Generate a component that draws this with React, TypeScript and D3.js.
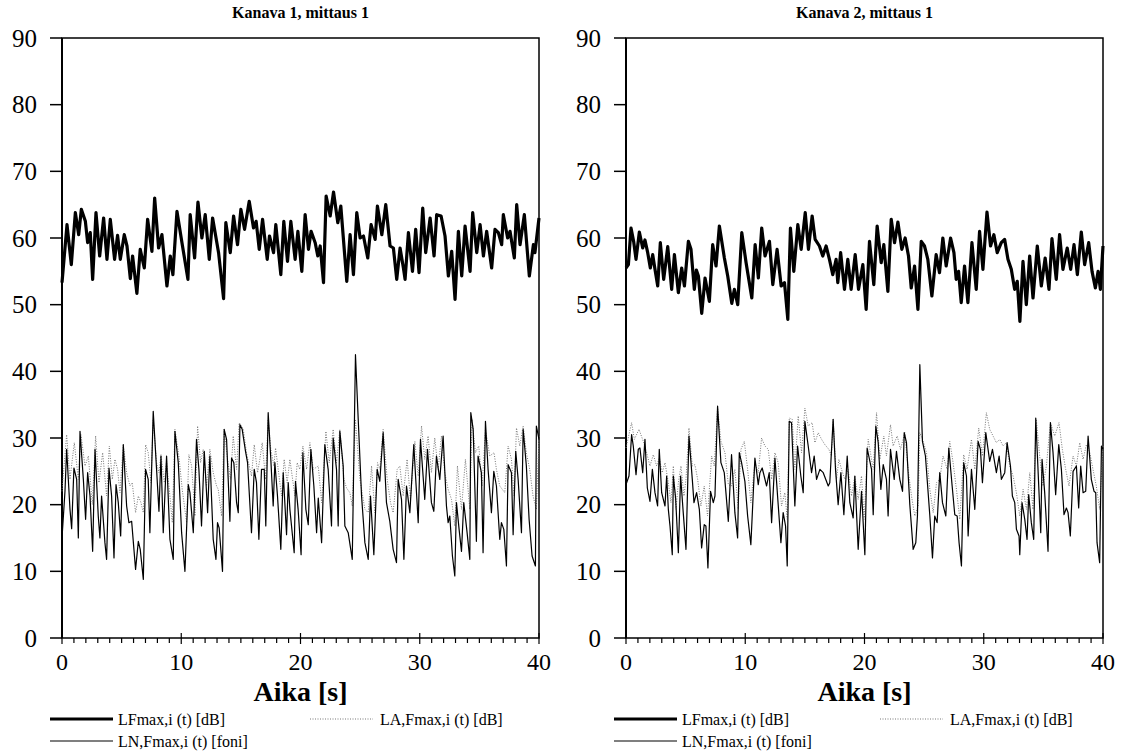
import React from "react";
import * as d3 from "d3";

type P = [number, number];

const xTicks = [0, 10, 20, 30, 40];
const yTicks = [0, 10, 20, 30, 40, 50, 60, 70, 80, 90];
const titles = ["Kanava 1, mittaus 1", "Kanava 2, mittaus 1"];
const xTitle = "Aika [s]";
const legendNames = ["LFmax,i (t) [dB]", "LA,Fmax,i (t) [dB]", "LN,Fmax,i (t) [foni]"];

// Kanava 1 – LFmax
const lf1: P[] = [[0,53.3],[0.42,62],[0.78,56],[1.12,63.8],[1.4,60.5],[1.62,64.3],[1.96,62.5],[2.15,59.3],[2.37,60.8],[2.57,53.8],[2.85,63.8],[3.16,57.3],[3.49,63],[3.77,56.8],[4.05,62.8],[4.41,56.8],[4.66,60.4],[4.89,56.8],[5.22,60.5],[5.45,58.8],[5.73,53.9],[5.92,57.3],[6.28,51.7],[6.56,58.3],[6.9,55.5],[7.18,62.8],[7.54,58],[7.77,66],[8.1,58.5],[8.38,60.5],[8.8,52.8],[9.08,57.3],[9.3,54.5],[9.64,64],[10.06,59.3],[10.56,53.8],[10.75,63.5],[11.12,57],[11.4,65.4],[11.73,60],[12.01,63.5],[12.35,56.8],[12.63,63],[13.13,57.8],[13.55,50.9],[13.74,62.3],[14.11,57.8],[14.39,63.3],[14.72,59],[15,64.3],[15.31,61.3],[15.7,65.5],[16.06,61.5],[16.28,62.5],[16.54,58.3],[16.82,62.8],[17.21,56.8],[17.4,60.3],[17.74,57.8],[17.93,62],[18.35,54.5],[18.6,62.5],[18.91,56.5],[19.19,62.5],[19.55,56.8],[19.78,61],[20.11,55],[20.39,63.5],[20.67,58.3],[20.89,61],[21.23,59.3],[21.45,57.3],[21.65,58.8],[21.93,53.3],[22.15,66.3],[22.49,63.3],[22.77,66.9],[23.13,62.3],[23.38,64.8],[23.88,53.5],[24.16,60.5],[24.44,54.5],[24.72,63.8],[25,60],[25.28,60.3],[25.64,57],[25.92,62],[26.26,59.8],[26.45,64.8],[26.82,60.5],[27.15,65],[27.51,58.8],[27.79,58.5],[28.07,53.8],[28.35,58.5],[28.63,55.5],[28.77,53.8],[29.05,60.8],[29.39,55],[29.66,61.3],[29.94,54.8],[30.25,64.5],[30.5,57.8],[30.87,63],[31.2,57.3],[31.42,63.5],[31.79,63.3],[32.12,60.3],[32.4,54.3],[32.68,58],[32.96,50.8],[33.24,61],[33.52,54.3],[33.8,61.8],[34.22,55],[34.44,63.8],[34.78,57.8],[35.06,62],[35.34,57.3],[35.61,61],[36.03,55.5],[36.31,61.3],[36.59,60.8],[36.87,59],[37.01,63.5],[37.37,60],[37.57,61],[37.93,57],[38.13,65],[38.41,59],[38.77,63.5],[39.19,54.3],[39.53,59],[39.66,57.8],[40,63]];

// Kanava 1 – LA,Fmax
const la1: P[] = [[0,22],[0.39,30.5],[0.67,23.8],[1.03,29.3],[1.37,23.8],[1.59,30.5],[1.93,25.8],[2.21,27.3],[2.54,20],[2.82,30.3],[3.1,23.3],[3.41,27.8],[3.74,21.3],[3.97,28.8],[4.22,23.8],[4.44,26.8],[4.66,25.3],[4.86,21.8],[5.14,29],[5.42,24.8],[5.7,22.8],[5.89,23.3],[6.17,18.8],[6.4,21.3],[6.62,20.3],[6.82,18.8],[7.01,29],[7.23,27.8],[7.46,23.3],[7.65,32.8],[7.93,26.3],[8.13,24.8],[8.3,27.5],[8.58,23.3],[8.77,26.5],[9.05,21.3],[9.25,17.3],[9.47,31.3],[9.8,27.3],[10.08,22.3],[10.45,17.3],[10.64,27.5],[10.87,25.8],[11.15,18.3],[11.37,31.8],[11.62,26.3],[11.84,28.3],[12.12,22.8],[12.4,28.3],[12.68,24.8],[12.96,22.8],[13.1,22.3],[13.38,18.3],[13.6,31.3],[13.88,26.8],[14.13,23.8],[14.36,30.3],[14.64,25.3],[14.86,32.3],[15.2,31.3],[15.47,27.8],[15.7,25.8],[15.89,24.3],[16.12,29],[16.4,24.8],[16.59,26.8],[16.79,29.3],[17.07,23.8],[17.29,32.8],[17.51,28.3],[17.77,25.8],[17.91,28.5],[18.13,25.3],[18.41,21.3],[18.63,26.8],[18.88,23.3],[19.11,26.8],[19.3,24.3],[19.53,21.3],[19.72,26.3],[19.94,25.3],[20.2,28.8],[20.51,25.3],[20.79,29.3],[21.07,25.3],[21.49,25.8],[21.77,20.3],[22.13,31],[22.41,26.3],[22.74,31.3],[23.02,26.3],[23.3,31.3],[23.64,23.8],[23.86,22.5],[24.14,21.8],[24.34,19.8],[24.61,32.8],[24.98,23.8],[25.4,19.3],[25.68,18.8],[25.96,25.8],[26.23,18.8],[26.46,26.3],[26.65,25.3],[26.93,31.3],[27.27,23.8],[27.55,20.3],[27.77,18.8],[28.11,25.3],[28.33,25.8],[28.61,21.3],[28.94,26.8],[29.22,20.8],[29.59,29.5],[29.87,24.3],[30.15,31.8],[30.42,26.8],[30.7,30.3],[30.98,24.8],[31.26,30],[31.54,25.3],[31.82,30.3],[32.1,24.8],[32.38,22.3],[32.66,20.8],[32.94,16.8],[33.16,25.8],[33.5,19.3],[33.83,26.8],[34.2,19.3],[34.39,32.8],[34.67,27.8],[34.95,28.8],[35.23,22.8],[35.51,31.3],[35.87,27.3],[36.23,27.8],[36.43,25.3],[36.71,22.8],[37.13,21.8],[37.41,28.8],[37.69,26.8],[37.91,21.3],[38.11,31.5],[38.39,28.8],[38.67,31.8],[38.94,27.8],[39.22,25.3],[39.5,21.3],[39.78,19.3],[40,30.3]];

// Kanava 1 – LN,Fmax
const ln1: P[] = [[0,15],[0.25,22],[0.39,28.3],[0.67,19.3],[0.81,16.4],[1,25.5],[1.23,23.8],[1.37,15],[1.51,31],[1.79,23.8],[1.98,17.8],[2.15,24.8],[2.35,21.3],[2.57,13],[2.77,28.3],[3.04,18.3],[3.18,15],[3.32,21.3],[3.6,14.3],[3.74,11.8],[3.94,25.5],[4.16,21.3],[4.36,12],[4.53,23],[4.72,20.3],[4.92,15.3],[5.14,29],[5.42,19.8],[5.61,17.3],[5.84,17.5],[6.17,10.3],[6.4,14.5],[6.56,13.3],[6.82,8.8],[7.01,25.3],[7.23,23.8],[7.37,15.8],[7.65,34],[7.93,25.3],[8.13,19],[8.3,27.3],[8.49,15.8],[8.77,27.3],[9.05,14.8],[9.33,11.8],[9.47,31],[9.75,26.3],[10.03,15.8],[10.31,10],[10.59,23],[10.73,21.8],[11.01,15.8],[11.28,29.8],[11.48,25.3],[11.7,16.8],[11.93,28],[12.21,18.8],[12.4,27.3],[12.68,14.8],[12.91,11.8],[13.04,17.3],[13.18,16.5],[13.46,10],[13.6,31.3],[13.8,29.8],[14.08,17.5],[14.22,27],[14.41,26.3],[14.64,20.3],[14.78,18.8],[14.92,32],[15.11,31.3],[15.39,28],[15.56,26.3],[15.89,15.8],[16.12,25.3],[16.31,23.3],[16.51,14.8],[16.73,25.3],[16.96,25.3],[17.09,16.8],[17.29,33.8],[17.51,26.8],[17.71,19.8],[17.85,26.3],[18.07,21.3],[18.35,13.3],[18.55,24.8],[18.83,15.5],[18.97,23.3],[19.11,19.3],[19.47,12.8],[19.58,23.5],[19.8,19.3],[20.05,12.5],[20.2,27.8],[20.45,19.3],[20.65,17],[20.87,28.3],[21.12,22.8],[21.35,15.8],[21.49,21],[21.77,14.3],[22.04,29],[22.32,25.3],[22.6,16.8],[22.74,30],[23.02,25.3],[23.16,16.8],[23.3,31],[23.58,25.8],[23.72,16.8],[24,15.8],[24.34,11.8],[24.61,42.5],[24.84,32.8],[25.12,21.3],[25.4,14.3],[25.68,11.8],[25.87,21.3],[26.15,12.5],[26.43,25.3],[26.65,23.5],[26.93,30.8],[27.21,20.3],[27.49,17.5],[27.77,13.3],[28.05,11.3],[28.19,23.8],[28.47,20.8],[28.67,11.8],[28.89,22.8],[29.17,18.8],[29.5,29],[29.87,17.3],[30.06,29.8],[30.42,20.8],[30.65,28.3],[30.98,20.3],[31.18,19],[31.4,27.3],[31.68,23.8],[31.96,30.3],[32.24,19.8],[32.38,17.3],[32.52,18.3],[32.74,12.3],[32.94,9.3],[33.08,20.3],[33.3,16.3],[33.5,13],[33.69,20.3],[33.97,15.8],[34.2,11.8],[34.28,33.8],[34.48,31.3],[34.75,14.5],[34.89,27.3],[35.17,24.8],[35.31,12.8],[35.51,32.5],[35.73,25.3],[36.01,18.8],[36.21,25],[36.43,22.8],[36.71,14.8],[36.85,17.3],[37.05,16.3],[37.27,10.8],[37.41,26],[37.69,24.8],[37.83,15.5],[38.05,28],[38.25,23.8],[38.53,15.8],[38.67,31.3],[38.94,25.8],[39.17,17.8],[39.42,12.3],[39.7,10.8],[39.78,31.8],[40,29.8]];

// Kanava 2 – LFmax
const lf2: P[] = [[0,55.5],[0.2,56],[0.42,61.5],[0.64,59.5],[0.84,56.8],[1.12,60.9],[1.4,58.5],[1.59,59.7],[1.82,57.8],[2.04,55.5],[2.24,57.5],[2.43,55.3],[2.66,52.8],[2.88,59.3],[3.16,53.8],[3.5,58.7],[3.83,52.3],[4.06,57.5],[4.39,51.8],[4.67,55.5],[4.9,52.8],[5.23,59.5],[5.45,58.3],[5.73,52.3],[5.9,55.2],[6.07,54.3],[6.35,48.7],[6.63,54],[6.99,50.5],[7.27,59],[7.55,55.8],[7.83,61.8],[8.25,57],[8.53,54.3],[8.87,50.2],[9.09,52.3],[9.37,50],[9.71,60.8],[10.07,56.3],[10.55,51],[10.83,59],[11.1,54],[11.38,61.5],[11.66,57.3],[12.03,59.5],[12.31,53],[12.67,58.3],[13.01,52.8],[13.29,53.3],[13.57,47.8],[13.79,61.5],[14.07,55],[14.41,62],[14.69,58.3],[15.03,63.8],[15.3,58.3],[15.61,63.3],[15.86,59.8],[16.22,58.8],[16.5,57.3],[16.78,58.8],[17.06,56.8],[17.34,54.5],[17.62,56.8],[17.76,53.3],[18,57.8],[18.32,52.3],[18.6,56.8],[18.88,52.3],[19.22,57.5],[19.5,52.3],[19.86,56],[20.14,49.3],[20.42,59.5],[20.78,53],[21.06,61.8],[21.4,56.3],[21.62,59],[21.96,52],[22.24,62.8],[22.52,59.3],[22.8,62.4],[23.13,58.3],[23.41,60],[23.69,57.3],[23.92,52.5],[24.2,55.8],[24.48,49.3],[24.76,59.5],[25.03,58.8],[25.31,56.8],[25.65,51.3],[26.01,57.5],[26.29,54.8],[26.57,60],[26.85,55.8],[27.22,60],[27.5,57.8],[27.69,53.8],[27.89,55],[28.11,50.3],[28.39,55.8],[28.67,50.3],[29.01,59.3],[29.37,52.3],[29.65,61],[29.93,55.3],[30.27,63.9],[30.57,58.8],[30.85,60.5],[31.13,57.8],[31.47,59.3],[31.75,59.8],[32.03,56.8],[32.31,55.3],[32.59,52.3],[32.81,53.5],[33.03,47.5],[33.29,56.5],[33.57,50],[33.85,57.3],[34.13,51],[34.49,58.8],[34.83,52.8],[35.15,57],[35.47,52.3],[35.72,59.9],[36.08,53.8],[36.36,60.5],[36.64,55.3],[37,58.5],[37.29,55.3],[37.57,59],[37.85,54.5],[38.18,60.9],[38.46,56],[38.8,59.3],[39.08,55],[39.36,52.5],[39.59,55],[39.78,52.3],[40,58.8]];

// Kanava 2 – LA,Fmax
const la2: P[] = [[0,28.5],[0.47,32.3],[0.7,29.8],[1.09,31.3],[1.45,29.5],[1.73,27.8],[2.01,25.8],[2.29,27.5],[2.57,25.8],[2.79,27],[3.04,24.8],[3.27,26.3],[3.55,23.3],[3.77,20.3],[3.97,25.8],[4.19,19.3],[4.39,23.3],[4.61,25.8],[4.86,21.3],[5.03,23.8],[5.28,31.5],[5.56,25.8],[5.78,26],[6.01,23.8],[6.28,19.8],[6.56,22.8],[6.84,18.3],[7.18,27.3],[7.4,25.8],[7.68,34.5],[7.96,29.5],[8.3,27.8],[8.58,23],[8.85,22.8],[9.13,25.3],[9.41,19.3],[9.64,28.3],[9.92,29.5],[10.2,25.3],[10.47,20.3],[10.81,26.3],[11.09,24.8],[11.37,30],[11.65,28.8],[11.93,28.3],[12.21,23.8],[12.49,27.8],[12.76,26.3],[13.04,19.8],[13.32,21.8],[13.52,17.8],[13.69,33],[13.94,32.8],[14.16,25.3],[14.44,33.3],[14.72,27.8],[15,34.5],[15.28,31.8],[15.61,32.3],[15.84,29.3],[16.12,30.8],[16.4,29.8],[16.68,29],[17.01,28.3],[17.23,27.3],[17.37,32.8],[17.65,23.8],[17.85,26.8],[18.07,25.3],[18.35,23.8],[18.63,25.3],[18.91,21.3],[19.19,24.3],[19.47,20.8],[19.75,24.3],[19.97,17.8],[20.31,29.8],[20.73,25.3],[21.01,33.8],[21.29,26.8],[21.62,30.3],[21.84,27.3],[22.18,32],[22.4,28.8],[22.74,30.3],[23.02,28.3],[23.38,30.8],[23.66,25.3],[23.94,21.3],[24.22,18.3],[24.5,19.8],[24.64,30.8],[24.92,29.5],[25.2,27.8],[25.48,22.3],[25.76,18.8],[26.04,23.3],[26.31,23.8],[26.59,27.3],[26.93,25.3],[27.15,29.5],[27.43,26.3],[27.71,22.3],[27.99,17.8],[28.32,27.5],[28.6,25.3],[28.97,29.8],[29.25,25.3],[29.58,31.5],[29.89,27.3],[30.22,33.8],[30.5,31.3],[30.78,30.3],[31.06,29.3],[31.34,29.8],[31.62,28.8],[31.9,29.3],[32.18,25.8],[32.46,24.3],[32.74,21.8],[33.02,18.3],[33.3,22.3],[33.58,19.3],[33.86,24.8],[34.13,19.3],[34.41,32.8],[34.69,27.3],[34.97,22.8],[35.25,25.8],[35.59,32.3],[35.95,30.3],[36.31,32.3],[36.59,28.3],[36.87,25.3],[37.15,22.8],[37.49,27.3],[37.77,25.8],[38.05,29.3],[38.33,26.8],[38.61,29],[38.89,27.8],[39.16,25.3],[39.44,22.8],[39.72,19.3],[40,28.8]];

// Kanava 2 – LN,Fmax
const ln2: P[] = [[0,23],[0.25,24.3],[0.47,30.5],[0.61,28.8],[0.84,24.5],[1.03,28.3],[1.17,28.5],[1.4,24.8],[1.59,29.8],[1.79,22.5],[2.01,20.5],[2.21,25.3],[2.43,21.8],[2.65,19.8],[2.79,28.3],[2.99,21.8],[3.27,19.8],[3.41,24.3],[3.55,19.3],[3.69,16.8],[3.88,12.5],[3.97,24.3],[4.16,21],[4.39,12.8],[4.58,24.3],[4.8,18.8],[5.03,13.3],[5.28,30.3],[5.56,23.8],[5.7,20.3],[5.92,21.8],[6.15,19.3],[6.34,13.5],[6.56,17],[6.7,16.8],[6.87,10.5],[7.09,22],[7.32,20.3],[7.46,21.3],[7.68,34.8],[7.96,26.3],[8.24,24.8],[8.58,17.5],[8.85,27.5],[9.13,18.8],[9.36,15],[9.5,27.8],[9.69,26.3],[9.97,23.5],[10.2,18.3],[10.47,14],[10.81,27],[11.09,23],[11.23,24.8],[11.42,25.5],[11.79,22.8],[12.01,24.8],[12.21,17.3],[12.49,27],[12.71,21.3],[12.99,14.3],[13.18,18.8],[13.38,16.8],[13.52,10.8],[13.69,32.5],[13.88,32.3],[14.16,19.8],[14.39,28.8],[14.66,24.3],[14.86,21.8],[15,32.5],[15.28,28.8],[15.56,24.8],[15.78,27.3],[15.98,23.8],[16.26,25.3],[16.54,24.8],[16.96,22.8],[17.09,23.3],[17.37,32.8],[17.57,25.3],[17.79,20],[18.02,24.8],[18.27,18.5],[18.55,27.3],[18.77,20.3],[19.05,18],[19.19,24.3],[19.47,13.3],[19.75,22],[20.03,12.5],[20.22,28.5],[20.59,25.3],[20.73,18.5],[20.95,31.8],[21.15,29.3],[21.37,22.3],[21.57,26],[21.84,23.8],[21.98,18.3],[22.18,28.3],[22.49,23.8],[22.68,28],[22.96,23.8],[23.19,22],[23.33,30.8],[23.52,29.3],[23.8,20],[24.08,13.3],[24.3,14.3],[24.44,18.3],[24.64,41],[24.86,29.5],[25.11,27.3],[25.48,18.3],[25.7,12],[25.89,18.3],[26.09,17.3],[26.31,24.8],[26.54,20.3],[26.82,18.3],[27.07,28.5],[27.35,22.8],[27.57,18.5],[27.77,18.3],[27.93,14.3],[28.13,10.8],[28.32,26.3],[28.55,24.3],[28.69,15.3],[28.97,25.3],[29.25,19.3],[29.53,29.5],[29.72,28.3],[29.89,23.3],[30.17,30.8],[30.5,26.5],[30.73,28.3],[31.06,24.8],[31.29,27.3],[31.48,23.8],[31.76,24.8],[31.96,29.3],[32.24,25.8],[32.4,21.3],[32.6,20.3],[32.74,16.3],[32.96,15.3],[33.02,12.5],[33.21,20.3],[33.44,17.8],[33.63,14.8],[33.77,21.5],[33.99,17.3],[34.19,14.8],[34.36,33],[34.55,25.3],[34.78,15.8],[34.89,26.8],[35.11,21.8],[35.39,13],[35.59,32.3],[35.81,27.8],[36.03,21.5],[36.29,29],[36.51,25.3],[36.73,18.5],[36.93,19.5],[37.07,18.8],[37.26,15.3],[37.49,25],[37.77,25.8],[37.96,19.5],[38.13,25.8],[38.33,21.8],[38.55,22],[38.75,30.3],[39.02,23.8],[39.25,22],[39.39,21.8],[39.5,14.3],[39.72,11.3],[39.87,28.8],[40,28.3]];

const panels = [
  { title: titles[0], lf: lf1, la: la1, ln: ln1, x0: 62, x1: 539, labelX: 37, legX: 50, leg2X: 310 },
  { title: titles[1], lf: lf2, la: la2, ln: ln2, x0: 626, x1: 1103, labelX: 601, legX: 614, leg2X: 880 },
];

const tf = { fontFamily: "Liberation Serif" };
const Y_TOP = 38;
const Y_BOT = 638;

function Panel({ p }: { p: (typeof panels)[number] }) {
  const x = d3.scaleLinear().domain([0, 40]).range([p.x0, p.x1]);
  const y = d3.scaleLinear().domain([0, 90]).range([Y_BOT, Y_TOP]);
  const line = d3
    .line<P>()
    .x((d) => x(d[0]))
    .y((d) => y(d[1]));
  const minor = d3.range(0, 41, 1);
  const cx = (p.x0 + p.x1) / 2;
  return (
    <g>
      <text x={cx} y={18} textAnchor="middle" fontWeight="bold" fontSize={16} style={tf}>
        {p.title}
      </text>
      <rect x={p.x0} y={Y_TOP} width={p.x1 - p.x0} height={Y_BOT - Y_TOP} fill="none" stroke="#000" strokeWidth={1.5} />
      <line x1={p.x0} x2={p.x0} y1={Y_TOP} y2={Y_BOT} stroke="#000" strokeWidth={2} />
      {yTicks.map((t) => (
        <g key={t}>
          <line x1={p.x0 - 12} x2={p.x0} y1={y(t)} y2={y(t)} stroke="#000" strokeWidth={1.5} />
          <text x={p.labelX} y={y(t)} dy="0.35em" textAnchor="end" fontSize={25} style={tf}>
            {t}
          </text>
        </g>
      ))}
      {minor.map((t) => (
        <line key={t} x1={x(t)} x2={x(t)} y1={Y_BOT - (t % 10 === 0 ? 5 : 0)} y2={Y_BOT + (t % 10 === 0 ? 6 : 5)} stroke="#000" strokeWidth={1.2} />
      ))}
      {xTicks.map((t) => (
        <text key={t} x={x(t)} y={670} textAnchor="middle" fontSize={24} style={tf}>
          {t}
        </text>
      ))}
      <text x={cx} y={701} textAnchor="middle" fontWeight="bold" fontSize={28} style={tf}>
        {xTitle}
      </text>
      <path d={line(p.la) || ""} fill="none" stroke="#777" strokeWidth={1} strokeDasharray="1 1.5" />
      <path d={line(p.ln) || ""} fill="none" stroke="#000" strokeWidth={1.2} strokeLinejoin="round" />
      <path d={line(p.lf) || ""} fill="none" stroke="#000" strokeWidth={3.2} strokeLinejoin="round" />
      <line x1={p.legX} x2={p.legX + 63} y1={719} y2={719} stroke="#000" strokeWidth={3.2} />
      <text x={p.legX + 68} y={719} dy="0.35em" fontSize={16} style={tf}>
        {legendNames[0]}
      </text>
      <line x1={p.leg2X} x2={p.leg2X + 63} y1={719} y2={719} stroke="#777" strokeWidth={1} strokeDasharray="1 1.5" />
      <text x={p.leg2X + 70} y={719} dy="0.35em" fontSize={16} style={tf}>
        {legendNames[1]}
      </text>
      <line x1={p.legX} x2={p.legX + 63} y1={741} y2={741} stroke="#000" strokeWidth={1.2} />
      <text x={p.legX + 68} y={741} dy="0.35em" fontSize={16} style={tf}>
        {legendNames[2]}
      </text>
    </g>
  );
}

export default function App() {
  return (
    <svg width={1126} height={756} style={{ position: "absolute", left: 0, top: 0, background: "#fff" }}>
      <rect width={1126} height={756} fill="#fff" />
      {panels.map((p, i) => (
        <Panel key={i} p={p} />
      ))}
    </svg>
  );
}
